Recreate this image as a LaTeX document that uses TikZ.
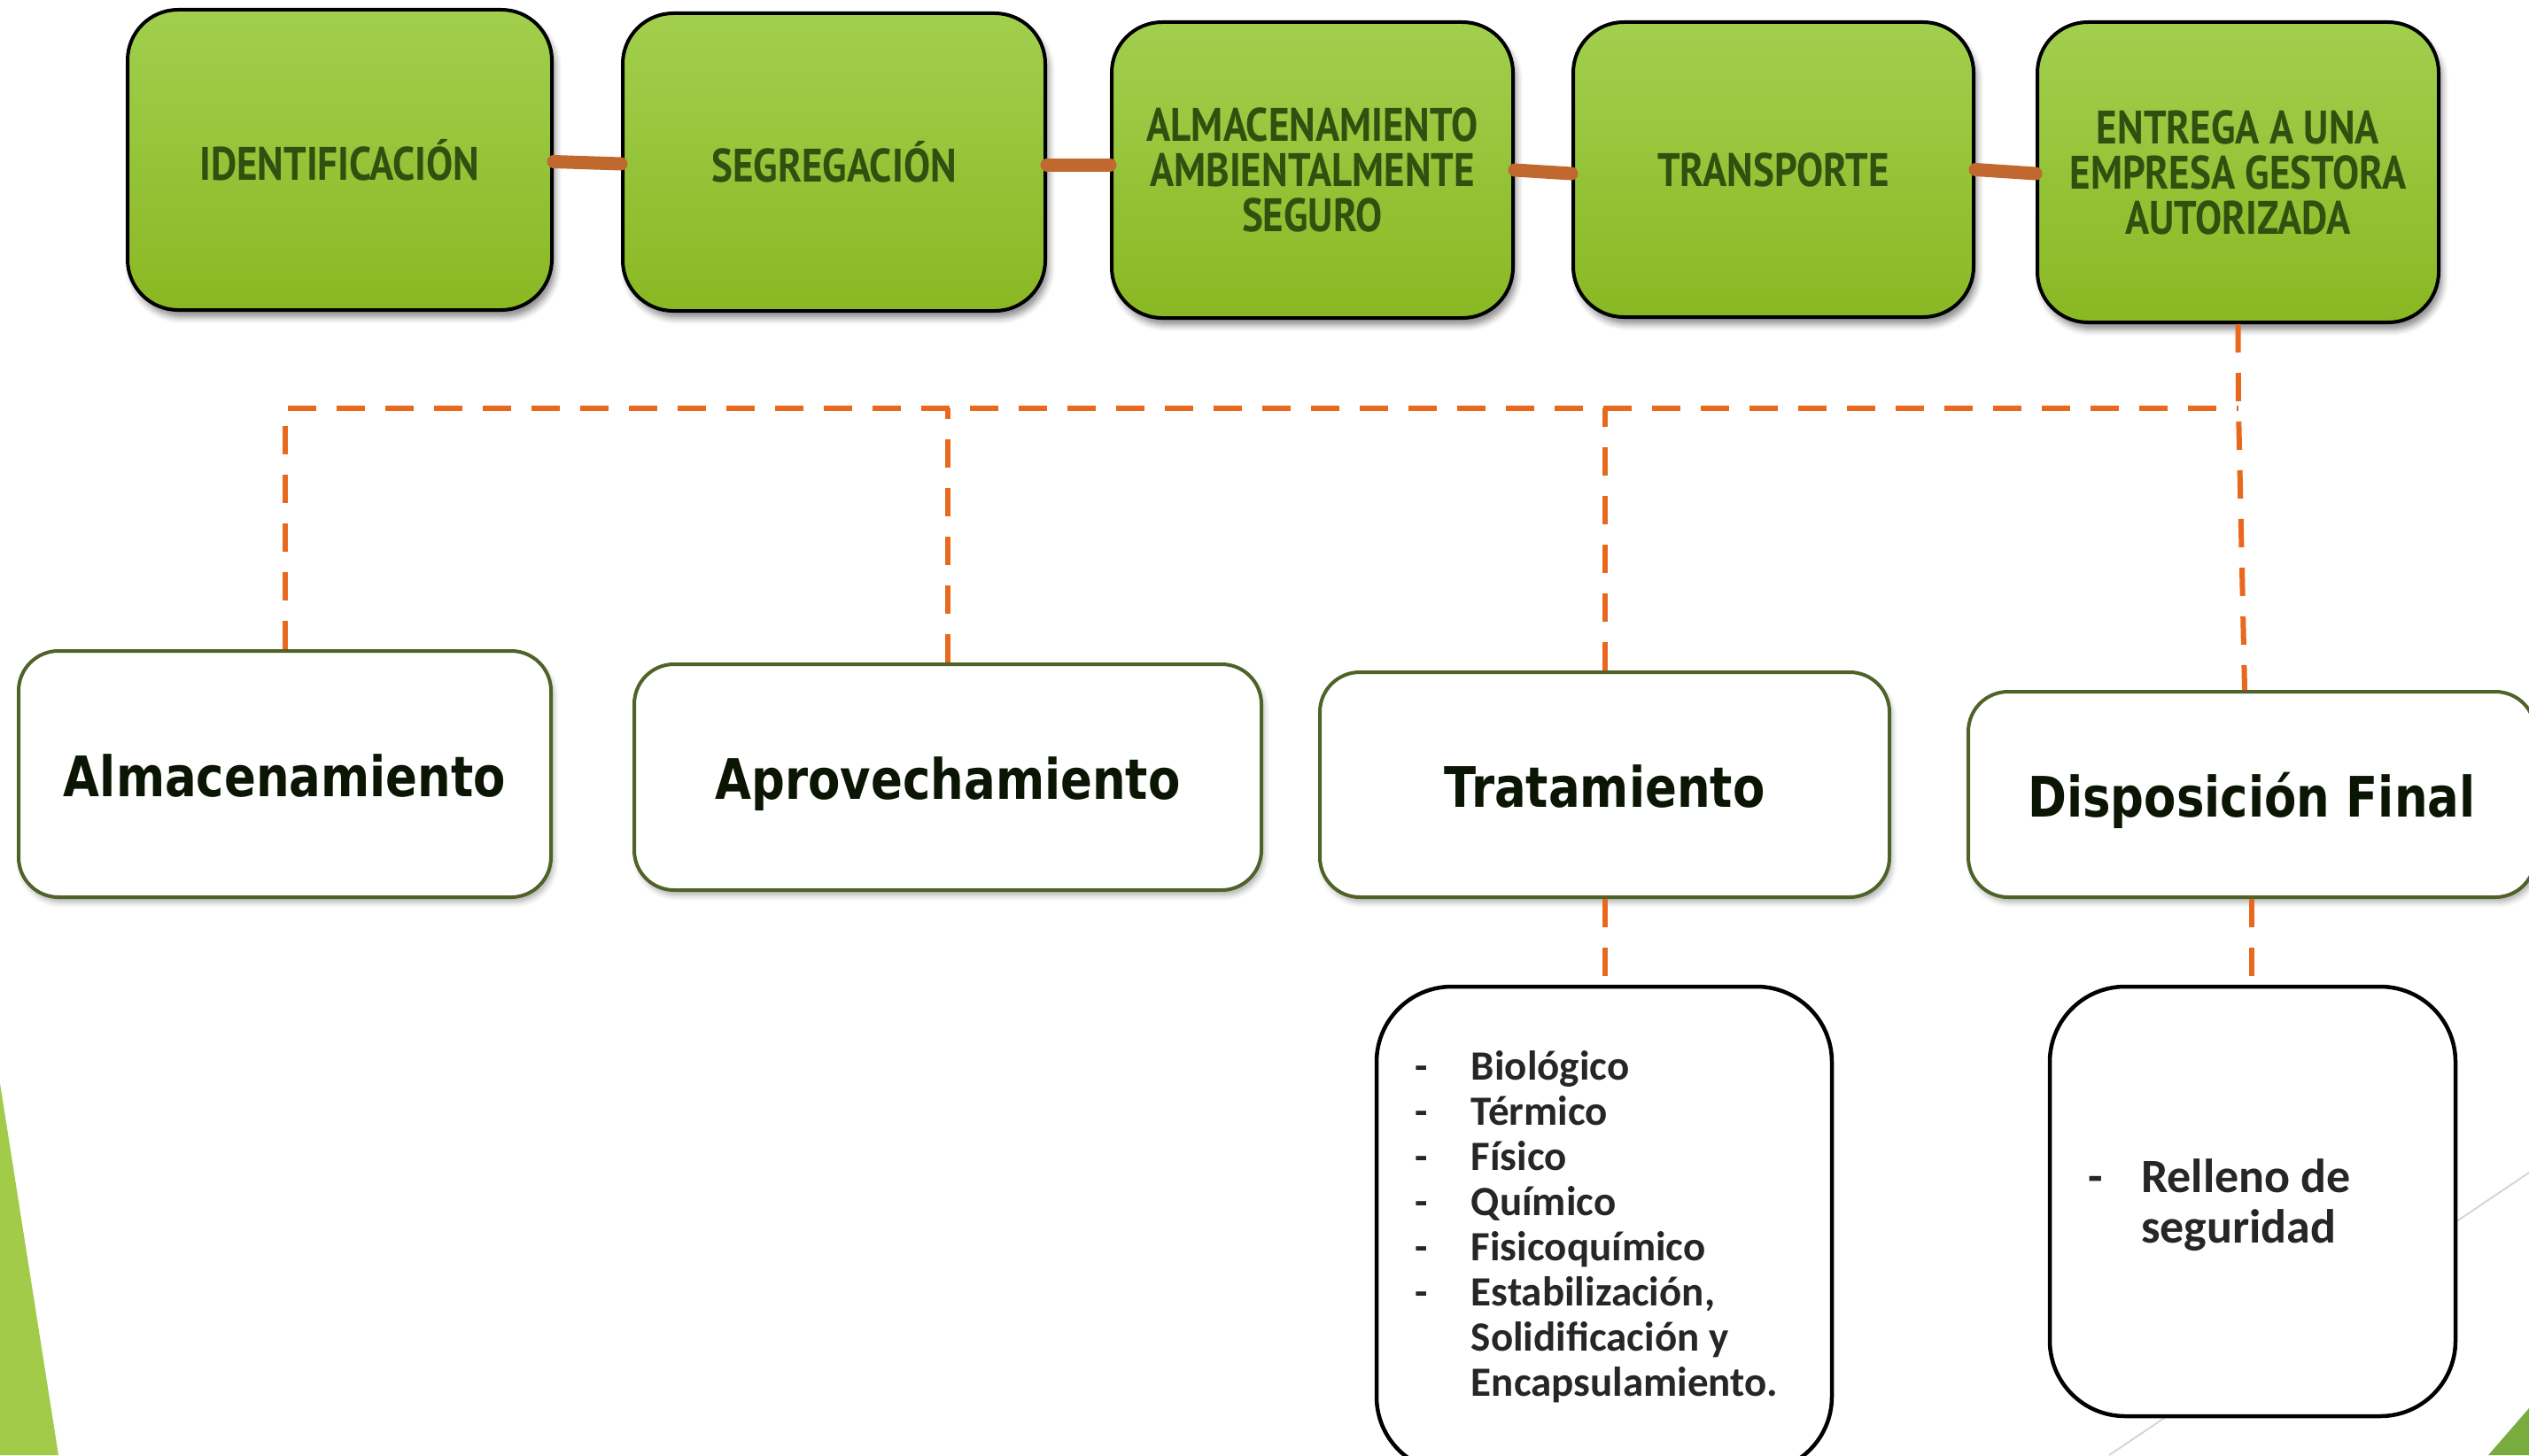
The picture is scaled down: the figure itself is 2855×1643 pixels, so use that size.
\documentclass[tikz,border=0pt]{standalone}
\usepackage{fontspec}
\usetikzlibrary{shadows.blur,calc}
\newfontfamily\topfont[FakeStretch=0.85]{PT Sans}
\newfontfamily\midfont[FakeStretch=0.84]{DejaVu Sans}
\newfontfamily\listfont{Carlito}
\definecolor{topgreenA}{HTML}{A1CF4E}
\definecolor{topgreenB}{HTML}{8AB823}
\definecolor{toptext}{HTML}{30500F}
\definecolor{olive}{HTML}{4F6228}
\definecolor{midtext}{HTML}{0B1503}
\definecolor{connc}{HTML}{C0682D}
\definecolor{dashc}{HTML}{E8691E}
\definecolor{listtext}{HTML}{262626}
\definecolor{leftgreen}{HTML}{A2CB4A}
\definecolor{rightgreen}{HTML}{78AC3F}
\definecolor{grayline}{HTML}{D6D6D6}
\tikzset{
  topbox/.style={draw=black, line width=4pt, rounded corners=57pt,
    top color=topgreenA, bottom color=topgreenB, inner sep=0pt, align=center,
    font=\topfont\bfseries\fontsize{53}{51}\selectfont, text=toptext,
    blur shadow={shadow xshift=4pt, shadow yshift=-8pt, shadow blur radius=7pt, shadow opacity=45}},
  midbox/.style={draw=olive, line width=4pt, rounded corners=45pt, fill=white,
    inner sep=0pt, align=center, text height=58pt, text depth=8pt,
    font=\midfont\bfseries\fontsize{63}{70}\selectfont, text=midtext,
    blur shadow={shadow xshift=3pt, shadow yshift=-6pt, shadow blur radius=6pt, shadow opacity=30}},
  listbox/.style={draw=black, line width=4.5pt, rounded corners=85pt, fill=white,
    inner sep=0pt, align=left, text=listtext},
  topconn/.style={draw=connc, line width=15pt, line cap=round},
  dashline/.style={draw=dashc, line width=6pt, dash pattern=on 32pt off 23pt},
}
\begin{document}
\begin{tikzpicture}[x=1pt,y=-1pt]
\useasboundingbox (0,0) rectangle (2855,1643);
% background decorations
\fill[leftgreen] (0,1223) -- (66,1643) -- (0,1643) -- cycle;
\fill[rightgreen] (2855,1590) -- (2809,1643) -- (2855,1643) -- cycle;
\draw[grayline, line width=2pt] (2855,1324) -- (2381,1643);
% top row
\node[topbox, minimum width=479pt, minimum height=339pt] (b1) at (383.5,180.5) {IDENTIFICACIÓN};
\node[topbox, minimum width=477pt, minimum height=336pt] (b2) at (941.5,183) {SEGREGACIÓN};
\node[topbox, minimum width=453pt, minimum height=334pt] (b3) at (1481.5,192) {ALMACENAMIENTO\\AMBIENTALMENTE\\SEGURO};
\node[topbox, minimum width=452pt, minimum height=333pt] (b4) at (2002,191.5) {TRANSPORTE};
\node[topbox, minimum width=453pt, minimum height=339pt] (b5) at (2526.5,194.5) {ENTREGA A UNA\\EMPRESA GESTORA\\AUTORIZADA};
\draw[topconn] ([yshift=-2pt]b1.east) -- ([yshift=-2pt]b2.west);
\draw[topconn] ([yshift=-3pt]b2.east) -- ([yshift=6pt]b3.west);
\draw[topconn] (b3.east) -- ([yshift=-4.5pt]b4.west);
\draw[topconn] (b4.east) -- ([yshift=-1.5pt]b5.west);
% second row
\node[midbox, minimum width=601pt, minimum height=278pt] (A) at (321.5,874) {Almacenamiento};
\node[midbox, minimum width=708pt, minimum height=255pt] (B) at (1070,877.5) {Aprovechamiento};
\node[midbox, minimum width=643pt, minimum height=254pt] (C) at (1811.5,886) {Tratamiento};
\node[midbox, minimum width=640pt, minimum height=232pt] (D) at (2542,897) {Disposición Final};
% third row
\node[listbox, minimum width=514pt, minimum height=548pt,
  font=\listfont\bfseries\fontsize{47}{51}\selectfont] (E) at (1811,1388)
  {\begin{tabular}{@{}p{63pt}@{}l@{\hspace{17pt}}}
   - & Biológico\\
   - & Térmico\\
   - & Físico\\
   - & Químico\\
   - & Fisicoquímico\\
   - & Estabilización,\\
     & Solidificación y\\
     & Encapsulamiento.
   \end{tabular}};
\node[listbox, minimum width=458pt, minimum height=485pt,
  font=\listfont\bfseries\fontsize{54}{57}\selectfont] (F) at (2543,1356.5)
  {\begin{tabular}{@{}p{60pt}@{}l@{\hspace{75pt}}}
   - & \rule{0pt}{54pt}Relleno de\\
     & seguridad
   \end{tabular}};
% dashed tree
\coordinate (h) at (2527,461);
\draw[dashline] (A.north) |- (h);
\draw[dashline] (B.north) -- (B.north |- h);
\draw[dashline] (C.north) -- (C.north |- h);
\draw[dashline] (b5.south) -- (h) -- ([xshift=-8pt]D.north);
\draw[dashline] (C.south) -- (C.south |- E.north);
\draw[dashline] (D.south) -- (D.south |- F.north);
\end{tikzpicture}
\end{document}
